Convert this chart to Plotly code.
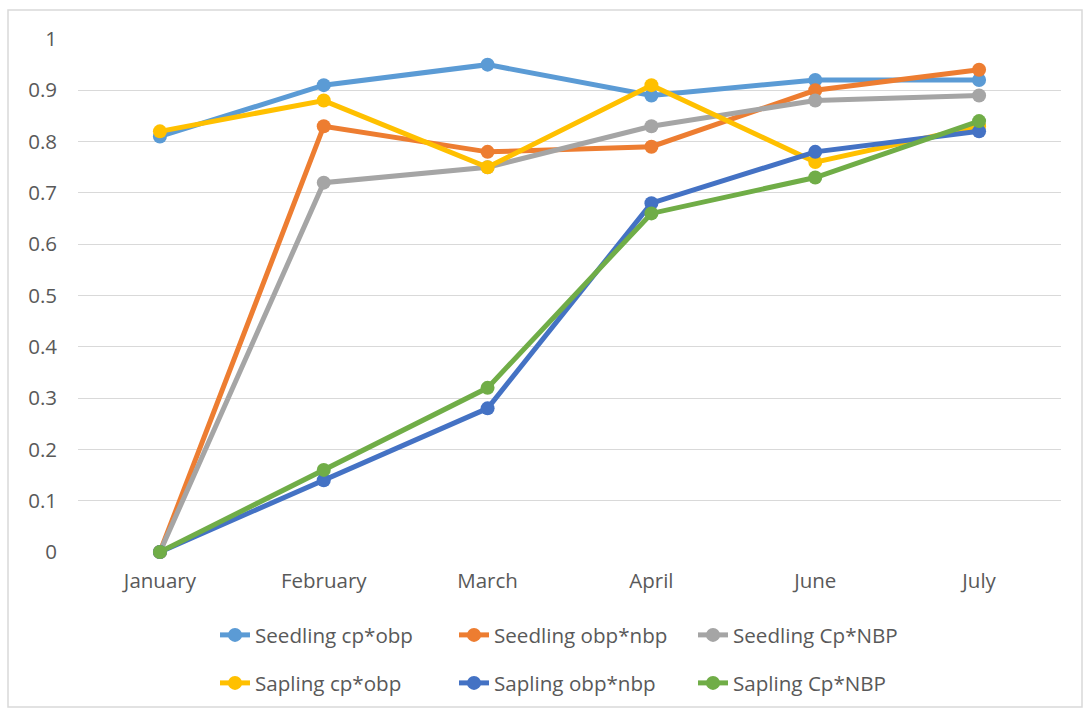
import plotly.graph_objects as go

months = ["January", "February", "March", "April", "June", "July"]
seedling_cp_obp = [0.81, 0.91, 0.95, 0.89, 0.92, 0.92]
seedling_obp_nbp = [0, 0.83, 0.78, 0.79, 0.90, 0.94]
seedling_cp_nbp = [0, 0.72, 0.75, 0.83, 0.88, 0.89]
sapling_cp_obp = [0.82, 0.88, 0.75, 0.91, 0.76, 0.83]
sapling_obp_nbp = [0, 0.14, 0.28, 0.68, 0.78, 0.82]
sapling_cp_nbp = [0, 0.16, 0.32, 0.66, 0.73, 0.84]
y_ticks = [0, 0.1, 0.2, 0.3, 0.4, 0.5, 0.6, 0.7, 0.8, 0.9, 1]

series = [
    ("Seedling cp*obp", seedling_cp_obp, "#5B9BD5", "legend"),
    ("Seedling obp*nbp", seedling_obp_nbp, "#ED7D31", "legend"),
    ("Seedling Cp*NBP", seedling_cp_nbp, "#A5A5A5", "legend"),
    ("Sapling cp*obp", sapling_cp_obp, "#FFC000", "legend2"),
    ("Sapling obp*nbp", sapling_obp_nbp, "#4472C4", "legend2"),
    ("Sapling Cp*NBP", sapling_cp_nbp, "#70AD47", "legend2"),
]

fig = go.Figure()
for name, vals, color, leg in series:
    fig.add_trace(go.Scatter(
        x=months, y=vals, name=name, mode="lines+markers",
        line=dict(color=color, width=5),
        marker=dict(color=color, size=14),
        cliponaxis=False, legend=leg,
    ))

W, H = 1083, 711
ml, mr, mt, mb = 78, 22, 39, 159
pw, ph = W - ml - mr, H - mt - mb

def px(x):
    return (x - ml) / pw

def py(y):
    return (H - mb - y) / ph

font_family = "Open Sans, Lato, sans-serif"
font_color = "#595959"
legend_common = dict(
    orientation="h", xanchor="left", yanchor="middle",
    font=dict(family=font_family, size=20.6, color=font_color),
    entrywidth=194, entrywidthmode="pixels",
    bgcolor="rgba(0,0,0,0)",
)

fig.update_layout(
    width=W, height=H,
    margin=dict(l=ml, r=mr, t=mt, b=mb, autoexpand=False),
    paper_bgcolor="white", plot_bgcolor="white",
    font=dict(family=font_family, size=20, color=font_color),
    showlegend=True,
    legend=dict(x=px(215), y=py(635), **legend_common),
    legend2=dict(x=px(215), y=py(683), **legend_common),
    xaxis=dict(
        range=[-0.5, 5.5],
        showgrid=False, showline=False, zeroline=False,
        ticks="", ticklabelstandoff=14,
        tickfont=dict(size=20.5, color=font_color),
    ),
    yaxis=dict(
        range=[0, 1], tickvals=y_ticks, ticktext=[f"{v:g}" for v in y_ticks],
        showgrid=True, gridcolor="#D9D9D9", gridwidth=1.3,
        zeroline=False, showline=False, ticks="", ticklabelstandoff=20,
        tickfont=dict(size=20.5, color=font_color),
    ),
    shapes=[dict(
        type="rect", xref="paper", yref="paper",
        x0=px(8), x1=px(1082), y0=py(707), y1=py(10),
        line=dict(color="#D9D9D9", width=1.5), fillcolor="rgba(0,0,0,0)", layer="below",
    )],
)

fig.write_html("out.html", config={"displayModeBar": False},
               post_script="document.body.style.margin='0';")
